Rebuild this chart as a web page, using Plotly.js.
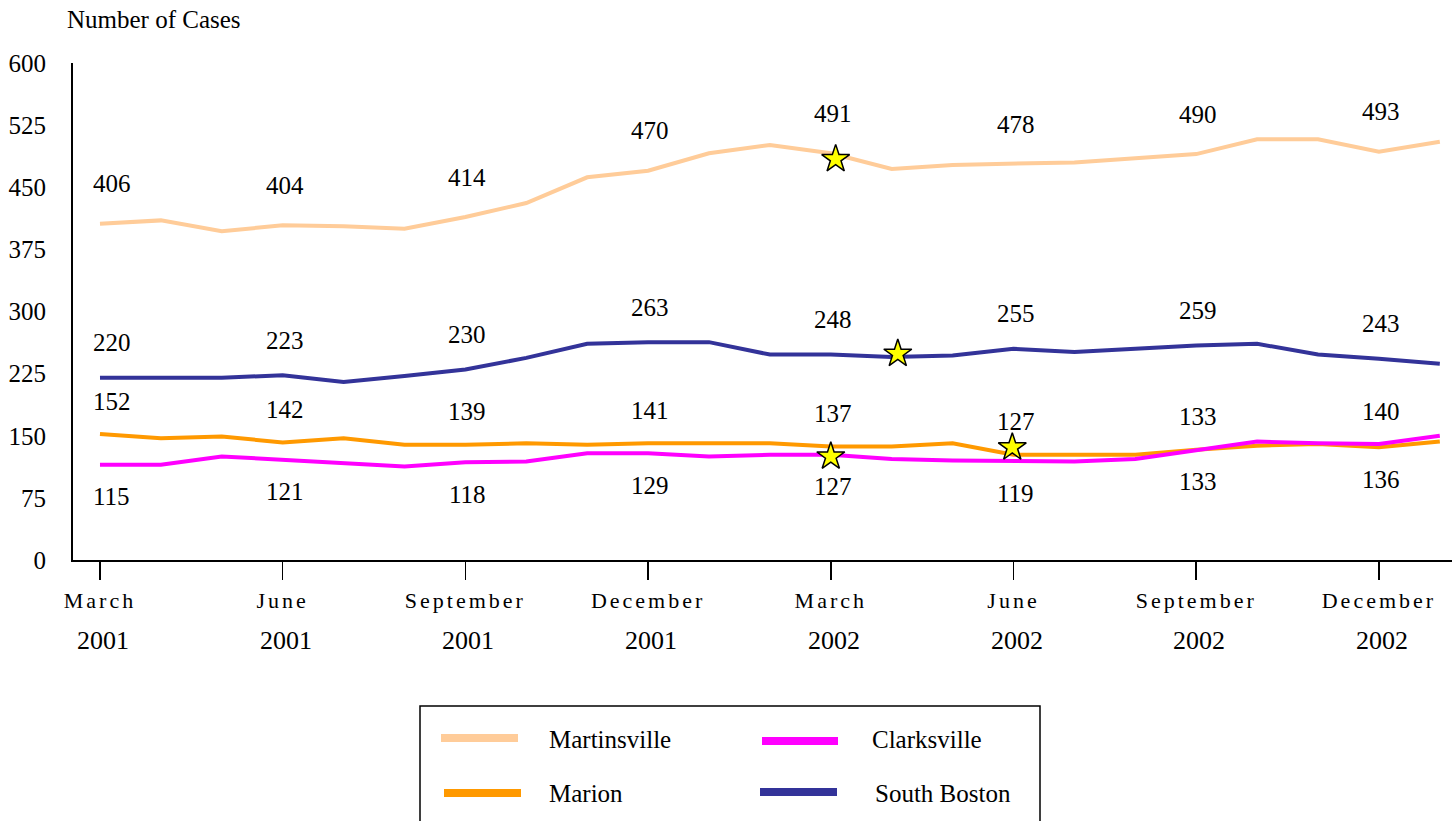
<!DOCTYPE html>
<html>
<head>
<meta charset="utf-8">
<script src="https://cdn.plot.ly/plotly-3.0.1.min.js"></script>
<style>
html,body{margin:0;padding:0;background:#fff;}
#chart{width:1452px;height:821px;}
.xtick text{letter-spacing:3px;}
</style>
</head>
<body>
<div id="chart"></div>
<script>
// ---- data (month index 0 = March 2001 ... 22 = January 2003) ----
const months = [0,1,2,3,4,5,6,7,8,9,10,11,12,13,14,15,16,17,18,19,20,21,22];
const martinsville = [406,410,397,404,403,400,414,431,462,470,491,501,491,472,477,478,480,485,490,508,508,493,505];
const southBoston  = [220,220,220,223,215,222,230,244,261,263,263,248,248,245,247,255,251,255,259,261,248,243,237];
const marion       = [152,147,149,142,147,139,139,141,139,141,141,141,137,137,141,127,127,127,133,138,140,136,143];
const clarksville  = [115,115,125,121,118,113,118,119,129,129,125,127,127,122,120,119,119,122,133,143,141,140,150];
const tickIdx      = [0,3,6,9,12,15,18,21];
const tickMonths   = ["March","June","September","December","March","June","September","December"];
const tickYears    = ["2001","2001","2001","2001","2002","2002","2002","2002"];
const yTicks       = [0,75,150,225,300,375,450,525,600];
const starX        = [12.08,13.1,12.0,14.98];
const starY        = [484,249,125,136];
const seriesNames  = ["Martinsville","Clarksville","Marion","South Boston"];

const FONT = "Liberation Serif";
const C = {Martinsville:"#FFCC99", Clarksville:"#FF00FF", Marion:"#FF9900", "South Boston":"#333399"};

// plot area in pixels
const L=73, R=1452, T=63, B=560;
const px = v => (v-L)/(R-L);
const py = v => (B-v)/(B-T);

function line(name, y){
  return {x:months, y:y, type:"scatter", mode:"lines", name:name,
          line:{color:C[name], width:4}, hoverinfo:"x+y+name", showlegend:false};
}
const traces = [
  line("Martinsville", martinsville),
  line("South Boston", southBoston),
  line("Marion", marion),
  line("Clarksville", clarksville),
  {x:starX, y:starY, type:"scatter", mode:"markers", showlegend:false,
   marker:{symbol:"star", size:21, color:"#FFFF00", line:{color:"#000", width:1.5}}}
];

const ann = [];
function lab(i, val, shift){
  ann.push({x:i, y:val, xref:"x", yref:"y", text:String(val), showarrow:false,
    yshift:shift, xshift:(i===0?12:2), font:{family:FONT, size:25, color:"#000"}});
}
tickIdx.forEach(i=>{
  lab(i, martinsville[i], 40);
  lab(i, southBoston[i], 35);
  const hi = Math.max(marion[i], clarksville[i]);
  const lo = Math.min(marion[i], clarksville[i]);
  lab(i, hi, 33);
  lab(i, lo, -32);
});
tickIdx.forEach((i,k)=>{
  ann.push({x:i, y:py(640), xref:"x", yref:"paper", text:tickYears[k], showarrow:false,
    xshift:3, yanchor:"middle", font:{family:FONT, size:26, color:"#000"}});
});
ann.push({x:px(65), y:py(20), xref:"paper", yref:"paper", text:"Number of Cases",
  showarrow:false, xanchor:"left", yanchor:"middle", font:{family:FONT, size:25, color:"#000"}});

// legend (drawn)
const shapes = [{type:"rect", xref:"paper", yref:"paper", x0:px(420), x1:px(1040), y0:py(706), y1:py(900),
  line:{color:"#000", width:1.5}, fillcolor:"rgba(0,0,0,0)"}];
const legPos = {
  "Martinsville":{sx:441, ex:518, y:738, tx:547, ty:739},
  "Clarksville": {sx:762, ex:838, y:741, tx:870, ty:739},
  "Marion":      {sx:444, ex:521, y:793, tx:547, ty:793},
  "South Boston":{sx:760, ex:837, y:792, tx:873, ty:793}
};
seriesNames.forEach(n=>{
  const p = legPos[n];
  shapes.push({type:"line", xref:"paper", yref:"paper", x0:px(p.sx), x1:px(p.ex), y0:py(p.y), y1:py(p.y),
    line:{color:C[n], width:8}});
  ann.push({x:px(p.tx), y:py(p.ty), xref:"paper", yref:"paper", text:n, showarrow:false,
    xanchor:"left", yanchor:"middle", font:{family:FONT, size:25, color:"#000"}});
});

const layout = {
  width:1452, height:821,
  margin:{l:L, r:1452-R, t:T, b:821-B, pad:0},
  paper_bgcolor:"#fff", plot_bgcolor:"#fff",
  font:{family:FONT, color:"#000"},
  showlegend:false,
  xaxis:{range:[-0.443,22.2], showgrid:false, zeroline:false, showline:true, linecolor:"#000", linewidth:2,
    tickmode:"array", tickvals:tickIdx, ticktext:tickMonths, ticks:"outside", ticklen:18, tickwidth:1.5,
    tickcolor:"#000", ticklabelstandoff:2, tickfont:{family:FONT, size:22, color:"#000"}},
  yaxis:{range:[0,600], showgrid:false, zeroline:false, showline:true, linecolor:"#000", linewidth:2,
    tickmode:"array", tickvals:yTicks, ticks:"", ticklabelstandoff:20,
    tickfont:{family:FONT, size:25, color:"#000"}},
  annotations:ann, shapes:shapes
};
Plotly.newPlot("chart", traces, layout, {displayModeBar:false, staticPlot:true});
</script>
</body>
</html>
